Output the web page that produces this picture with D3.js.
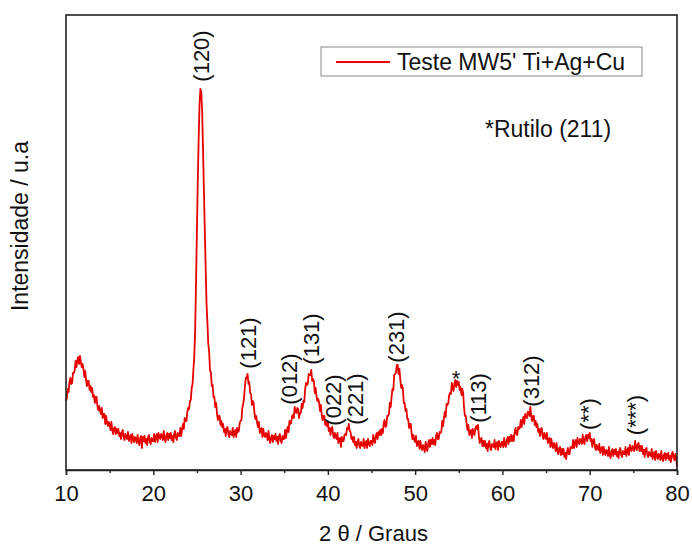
<!DOCTYPE html>
<html>
<head>
<meta charset="utf-8">
<script src="https://cdn.jsdelivr.net/npm/d3@7"></script>
<style>
  html, body { margin: 0; padding: 0; background: #fff; }
  svg { display: block; font-family: "Liberation Sans", Arial, sans-serif; }
</style>
</head>
<body>
<svg id="chart" width="692" height="547"></svg>
<script>
// ---- data ----
const angleStart = 10;      // 2θ of first sample (degrees)
const angleStep = 0.1;      // sampling step (degrees)
// intensity (arbitrary units), one row per degree: 10.0..10.9, 11.0..11.9, ...
const intensity = [
  69,72,81,78,88,92,86,87,97,97,
  100,109,103,110,113,106,114,108,103,106,
  101,93,99,90,84,89,89,80,84,78,
  82,73,75,67,73,73,64,60,64,59,
  56,62,52,56,56,46,54,47,44,48,
  46,40,48,40,36,42,43,36,41,37,
  41,34,37,31,38,40,33,30,36,33,
  31,38,29,33,35,27,36,31,28,33,
  32,27,35,28,25,32,34,22,33,29,
  34,27,31,25,33,35,28,26,32,29,
  29,36,28,33,36,28,37,33,31,36,
  35,30,39,31,28,35,37,30,36,32,
  37,30,34,28,36,39,32,30,37,34,
  34,42,34,41,46,41,52,49,49,58,
  62,61,69,70,82,86,101,114,141,189,
  240,290,332,366,381,378,358,320,280,240,
  203,166,148,126,118,99,98,84,85,73,
  73,63,67,56,50,54,54,45,49,43,
  46,38,41,34,42,43,36,33,39,36,
  35,42,33,38,40,33,42,38,39,47,
  49,50,62,66,72,84,92,92,96,86,
  88,77,76,65,69,67,56,51,54,47,
  43,48,37,41,42,33,41,35,33,37,
  36,30,39,31,27,33,35,28,34,31,
  36,29,33,26,34,36,29,27,34,31,
  31,40,32,39,43,38,49,46,47,54,
  55,52,63,58,57,62,61,52,57,57,
  66,62,69,68,81,87,85,86,96,95,
  95,100,89,91,89,77,82,74,69,71,
  67,59,65,55,50,54,54,45,49,44,
  48,39,42,35,42,43,35,32,37,33,
  31,37,27,31,32,23,33,29,29,35,
  36,35,42,41,46,39,38,31,33,28,
  33,25,28,22,29,31,24,22,28,25,
  24,31,22,27,29,22,31,26,24,29,
  29,25,35,29,27,34,37,31,38,35,
  40,35,41,37,47,50,43,44,54,54,
  56,67,63,73,81,80,95,96,97,105,
  105,96,101,90,82,85,81,67,67,59,
  61,51,51,42,46,46,36,31,35,30,
  28,34,24,28,29,21,29,23,20,25,
  23,18,28,22,19,27,30,23,30,26,
  32,26,30,25,34,37,31,31,38,37,
  38,49,44,52,58,53,66,65,67,75,
  77,76,87,82,79,87,90,83,89,85,
  88,80,83,75,81,77,63,54,54,46,
  40,45,35,39,40,32,41,36,35,42,
  44,41,45,34,27,31,32,24,29,24,
  29,22,26,19,27,29,22,20,26,24,
  23,30,21,26,28,20,29,24,23,28,
  28,23,32,25,23,30,33,26,33,29,
  35,29,34,29,38,42,36,35,43,41,
  42,50,43,49,53,46,56,53,52,58,
  58,54,63,54,49,54,54,45,49,43,
  46,38,41,34,41,42,34,31,37,33,
  31,37,27,31,32,23,31,25,22,27,
  25,19,27,19,16,22,23,15,21,16,
  21,13,17,11,18,22,16,16,23,22,
  22,30,22,28,30,23,32,27,26,31,
  30,26,35,28,26,33,35,29,35,32,
  37,29,31,23,30,31,23,20,25,21,
  20,26,17,21,23,15,23,18,15,20,
  19,14,23,15,12,19,21,14,20,16,
  21,14,18,12,20,22,15,13,19,16,
  16,23,14,19,22,15,25,20,19,24,
  23,19,29,22,20,26,27,19,24,19,
  24,16,20,13,21,22,15,13,18,15,
  14,21,11,16,18,10,19,14,11,16,
  15,10,19,12,9,15,17,10,16,12,
  17,10,14,8,16,18,12,10,16,13,
  3
];
const xTicks = [10, 20, 30, 40, 50, 60, 70, 80];
const xMinorTicks = [15, 25, 35, 45, 55, 65, 75];
// peak annotations: label, 2θ, intensity level of label centre
const peakLabels = ["(120)", "(121)", "(012)", "(131)", "(022)", "(221)", "(231)", "(113)", "(312)", "(**)", "(***)"];
const peakAngles = [25.58, 30.96, 35.55, 38.07, 40.59, 43.22, 47.92, 57.31, 63.38, 69.91, 75.30];
const peakLevels = [414, 127, 91, 131, 70, 71, 133, 72, 89, 56, 55];
const starLabel = "*";
const starAngle = 54.68;
const starLevel = 84;
const seriesName = "Teste MW5' Ti+Ag+Cu";
const noteText = "*Rutilo (211)";
const xTitle = "2 θ / Graus";
const yTitle = "Intensidade / u.a";

// ---- layout ----
const svg = d3.select("#chart");
const mLeft = 66, mRight = 677, mTop = 15, mBottom = 470;
const x = d3.scaleLinear().domain([10, 80]).range([mLeft, mRight]);
const y = d3.scaleLinear().domain([0, 455]).range([mBottom, mTop]);
const red = "#e60000";
const axisColor = "#222";

const points = intensity.map((v, i) => [angleStart + i * angleStep, v]);

// curve
svg.append("path")
  .datum(points)
  .attr("fill", "none")
  .attr("stroke", red)
  .attr("stroke-width", 1.8)
  .attr("stroke-linejoin", "round")
  .attr("d", d3.line().x(d => x(d[0])).y(d => y(d[1])));

// frame
svg.append("rect")
  .attr("x", mLeft).attr("y", mTop)
  .attr("width", mRight - mLeft).attr("height", mBottom - mTop)
  .attr("fill", "none").attr("stroke", axisColor).attr("stroke-width", 1.6);

// bottom axis
const xAxis = svg.append("g")
  .attr("transform", `translate(0,${mBottom})`)
  .call(d3.axisBottom(x).tickValues(xTicks).tickSize(5).tickPadding(10).tickFormat(d3.format("d")));
xAxis.select(".domain").attr("stroke", axisColor).attr("stroke-width", 1.6);
xAxis.selectAll(".tick line").attr("stroke", axisColor).attr("stroke-width", 1.4);
xAxis.selectAll(".tick text").attr("font-size", 22).attr("fill", "#111")
  .attr("font-family", "'Liberation Sans', Arial, sans-serif");

const xMinor = svg.append("g")
  .attr("transform", `translate(0,${mBottom})`)
  .call(d3.axisBottom(x).tickValues(xMinorTicks).tickSize(3).tickFormat(""));
xMinor.select(".domain").remove();
xMinor.selectAll(".tick line").attr("stroke", axisColor).attr("stroke-width", 1.4);

// axis titles
svg.append("text")
  .attr("x", (mLeft + mRight) / 2 + 2).attr("y", 541)
  .attr("text-anchor", "middle")
  .attr("font-size", 22).attr("fill", "#111")
  .text(xTitle);

svg.append("text")
  .attr("transform", `translate(28,226) rotate(-90)`)
  .attr("text-anchor", "middle")
  .attr("font-size", 23).attr("fill", "#111")
  .text(yTitle);

// peak labels
svg.selectAll("text.peak")
  .data(peakLabels)
  .join("text")
  .attr("class", "peak")
  .attr("transform", (d, i) => `translate(${x(peakAngles[i])},${y(peakLevels[i])}) rotate(-90)`)
  .attr("text-anchor", "middle")
  .attr("dominant-baseline", "central")
  .attr("font-size", 22).attr("fill", "#111")
  .text(d => d);

svg.append("text")
  .attr("x", x(starAngle)).attr("y", y(starLevel))
  .attr("text-anchor", "middle")
  .attr("font-size", 22).attr("fill", "#111")
  .text(starLabel);

// legend
const lg = svg.append("g");
lg.append("rect")
  .attr("x", 321).attr("y", 47).attr("width", 321).attr("height", 29)
  .attr("fill", "#fff").attr("stroke", "#888").attr("stroke-width", 1);
lg.append("line")
  .attr("x1", 336).attr("x2", 390).attr("y1", 62).attr("y2", 62)
  .attr("stroke", red).attr("stroke-width", 2);
lg.append("text")
  .attr("x", 397).attr("y", 70)
  .attr("font-size", 23).attr("fill", "#111")
  .text(seriesName);

// note
svg.append("text")
  .attr("x", 485).attr("y", 137)
  .attr("font-size", 23).attr("fill", "#111")
  .text(noteText);
</script>
</body>
</html>
